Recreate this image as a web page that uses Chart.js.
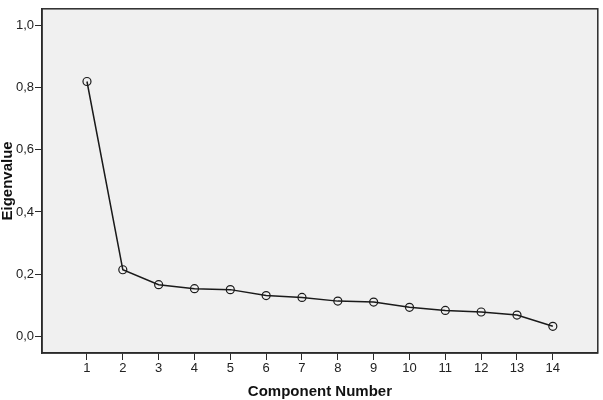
<!DOCTYPE html>
<html>
<head>
<meta charset="utf-8">
<script src="https://cdn.jsdelivr.net/npm/chart.js@4"></script>
<style>
  body { margin: 0; background: #fff; }
  canvas { display: block; }
</style>
</head>
<body>
<canvas id="scree" width="603" height="400"></canvas>
<script>
// scree plot data
const components = [1, 2, 3, 4, 5, 6, 7, 8, 9, 10, 11, 12, 13, 14];
const eigenvalues = [0.82, 0.214, 0.166, 0.153, 0.150, 0.131, 0.125, 0.113, 0.110, 0.093, 0.083, 0.078, 0.068, 0.032];
const yTicks = [0, 0.2, 0.4, 0.6, 0.8, 1.0];
const xTicks = components;

const frameColor = "#2b2b2b";

// grey plot area + box round it
const framePlugin = {
  id: "frame",
  beforeDraw(chart) {
    const a = chart.chartArea;
    const ctx = chart.ctx;
    ctx.save();
    ctx.fillStyle = "#f0f0f0";
    ctx.fillRect(a.left, a.top, a.right - a.left, a.bottom - a.top);
    ctx.restore();
  },
  afterDraw(chart) {
    const a = chart.chartArea;
    const ctx = chart.ctx;
    ctx.save();
    ctx.strokeStyle = frameColor;
    ctx.lineWidth = 1.5;
    ctx.strokeRect(a.left, a.top, a.right - a.left, a.bottom - a.top);
    ctx.restore();
  }
};

const tickFont = { family: "'Liberation Sans', Arial, sans-serif", size: 13 };
const titleFont = { family: "'Liberation Sans', Arial, sans-serif", size: 15, weight: "bold", lineHeight: 1 };

new Chart(document.getElementById("scree"), {
  type: "line",
  data: {
    datasets: [{
      data: components.map((c, i) => ({ x: c, y: eigenvalues[i] })),
      borderColor: "#1a1a1a",
      borderWidth: 1.5,
      pointRadius: 4,
      pointBorderWidth: 1.2,
      pointBorderColor: "#1a1a1a",
      pointBackgroundColor: "rgba(0,0,0,0)",
      tension: 0
    }]
  },
  options: {
    responsive: false,
    animation: false,
    layout: { padding: { top: 4, right: 5, left: 0, bottom: 0 } },
    plugins: {
      legend: { display: false },
      tooltip: { enabled: false }
    },
    scales: {
      x: {
        type: "linear",
        min: -0.255,
        max: 15.255,
        afterBuildTicks: scale => { scale.ticks = xTicks.map(v => ({ value: v })); },
        afterFit: scale => { scale.height = 47; },
        grid: { drawOnChartArea: false, drawTicks: true, tickLength: 7, color: frameColor, lineWidth: 1 },
        border: { display: true, color: frameColor, width: 1.5 },
        ticks: { font: tickFont, color: "#222", padding: 1, maxRotation: 0, autoSkip: false },
        title: { display: true, text: "Component Number", font: titleFont, color: "#111", padding: { top: 0, bottom: 1 } }
      },
      y: {
        min: -0.054,
        max: 1.054,
        afterBuildTicks: scale => { scale.ticks = yTicks.map(v => ({ value: v })); },
        afterFit: scale => { scale.width = 42; },
        grid: { drawOnChartArea: false, drawTicks: true, tickLength: 7, color: frameColor, lineWidth: 1 },
        border: { display: true, color: frameColor, width: 1.5 },
        ticks: {
          font: tickFont,
          color: "#222",
          padding: 1,
          callback: v => v.toFixed(1).replace(".", ",")
        },
        title: { display: true, text: "Eigenvalue", font: titleFont, color: "#111", padding: { top: 0, bottom: 0 } }
      }
    }
  },
  plugins: [framePlugin]
});
</script>
</body>
</html>
